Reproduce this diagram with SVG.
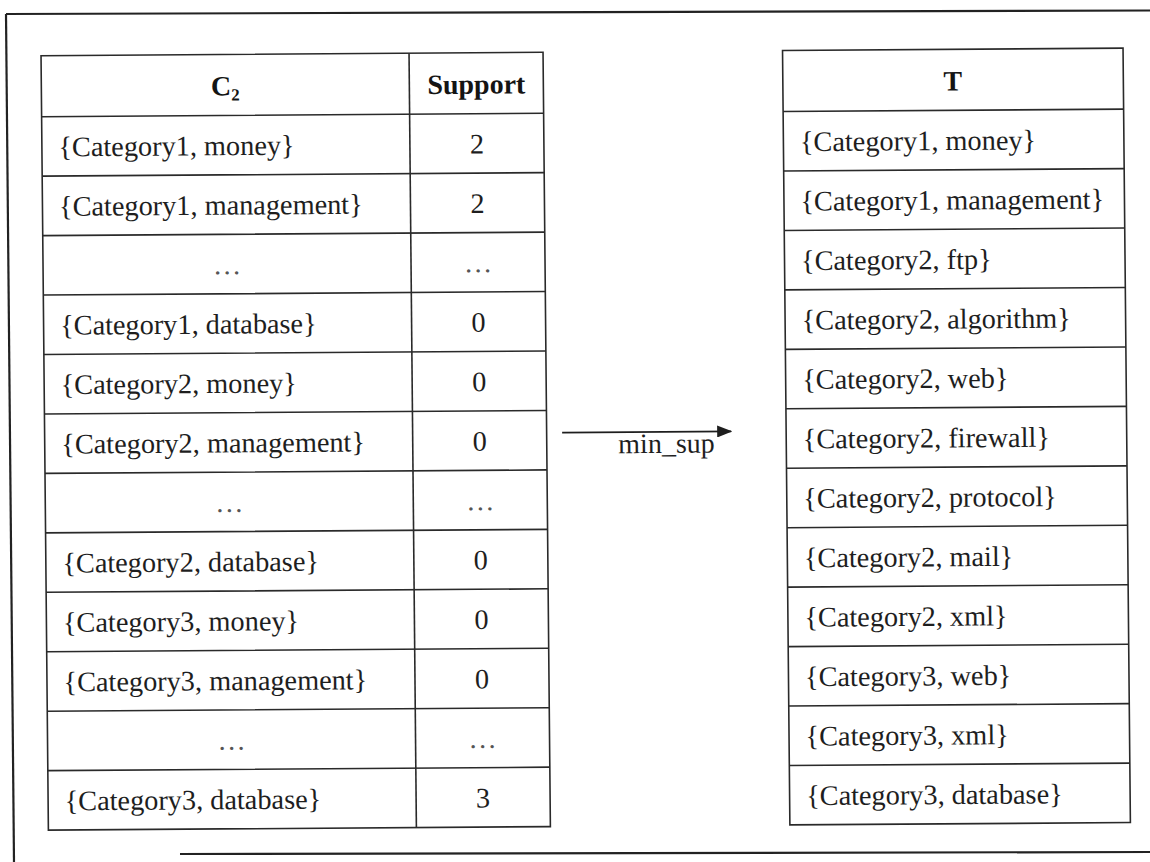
<svg xmlns="http://www.w3.org/2000/svg" width="1150" height="862" viewBox="0 0 1150 862">
  <style>
    .grid { fill: none; stroke: #2a2a2a; stroke-width: 1.6; }
    .frame { fill: none; stroke: #222; stroke-width: 2.2; }
    .cell { font-family: "Liberation Serif", "Times New Roman", serif; font-size: 28.3px; fill: #1e1e1e; }
    .head { font-family: "Liberation Serif", "Times New Roman", serif; font-size: 28px; font-weight: bold; fill: #141414; }
    .mid { text-anchor: middle; }
    .dots { fill: #555; }
    .edge { stroke: #1e1e1e; stroke-width: 1.6; fill: none; }
    .edge-label { font-family: "Liberation Serif", "Times New Roman", serif; font-size: 28px; fill: #1e1e1e; }
  </style>
  <defs>
    <marker id="arrowhead" viewBox="0 0 15 12" refX="14" refY="6" markerWidth="15" markerHeight="12" markerUnits="userSpaceOnUse" orient="auto">
      <path d="M0,0 L15,6 L0,12 Z" fill="#1e1e1e"/>
    </marker>
  </defs>
  <rect width="1150" height="862" fill="#ffffff"/>

  <!-- outer frame: top, left and bottom rules -->
  <g id="frame" class="frame">
    <path d="M6,14 L1150,10.5"/>
    <path d="M6,14 L14,862"/>
    <path d="M180,854 L1150,852"/>
  </g>

  <g transform="matrix(1 -0.007 0.0095 1 0 0)">
    <!-- candidate 2-itemsets with their support -->
    <g id="c2-table">
      <rect class="grid" x="40.5" y="56" width="502" height="774.4"/>
      <path class="grid" d="M408.5,56 V830.4"/>
      <path class="grid" d="M40.5,117 H542.5 M40.5,176.45 H542.5 M40.5,235.9 H542.5 M40.5,295.35 H542.5 M40.5,354.8 H542.5 M40.5,414.25 H542.5 M40.5,473.7 H542.5 M40.5,533.15 H542.5 M40.5,592.6 H542.5 M40.5,652.05 H542.5 M40.5,711.5 H542.5 M40.5,770.95 H542.5"/>
      <text class="head mid" x="224.5" y="97">C<tspan font-size="17" dy="5">2</tspan></text>
      <text class="head mid" x="475.5" y="97">Support</text>

      <text class="cell" x="57" y="156.7">{Category1, money}</text>
      <text class="cell mid" x="475.5" y="156.7">2</text>
      <text class="cell" x="57" y="216.2">{Category1, management}</text>
      <text class="cell mid" x="475.5" y="216.2">2</text>
      <text class="cell mid dots" x="224.5" y="275.6">…</text>
      <text class="cell mid dots" x="475.5" y="275.6">…</text>
      <text class="cell" x="57" y="335.1">{Category1, database}</text>
      <text class="cell mid" x="475.5" y="335.1">0</text>
      <text class="cell" x="57" y="394.5">{Category2, money}</text>
      <text class="cell mid" x="475.5" y="394.5">0</text>
      <text class="cell" x="57" y="454">{Category2, management}</text>
      <text class="cell mid" x="475.5" y="454">0</text>
      <text class="cell mid dots" x="224.5" y="513.4">…</text>
      <text class="cell mid dots" x="475.5" y="513.4">…</text>
      <text class="cell" x="57" y="572.9">{Category2, database}</text>
      <text class="cell mid" x="475.5" y="572.9">0</text>
      <text class="cell" x="57" y="632.3">{Category3, money}</text>
      <text class="cell mid" x="475.5" y="632.3">0</text>
      <text class="cell" x="57" y="691.8">{Category3, management}</text>
      <text class="cell mid" x="475.5" y="691.8">0</text>
      <text class="cell mid dots" x="224.5" y="751.2">…</text>
      <text class="cell mid dots" x="475.5" y="751.2">…</text>
      <text class="cell" x="57" y="810.7">{Category3, database}</text>
      <text class="cell mid" x="475.5" y="810.7">3</text>
    </g>

    <!-- frequent itemsets kept after the support threshold -->
    <g id="t-table">
      <rect class="grid" x="782" y="56" width="340.5" height="774.4"/>
      <path class="grid" d="M782,117 H1122.5 M782,176.45 H1122.5 M782,235.9 H1122.5 M782,295.35 H1122.5 M782,354.8 H1122.5 M782,414.25 H1122.5 M782,473.7 H1122.5 M782,533.15 H1122.5 M782,592.6 H1122.5 M782,652.05 H1122.5 M782,711.5 H1122.5 M782,770.95 H1122.5"/>
      <text class="head mid" x="952" y="97">T</text>
      <text class="cell" x="798.5" y="156.7">{Category1, money}</text>
      <text class="cell" x="798.5" y="216.2">{Category1, management}</text>
      <text class="cell" x="798.5" y="275.6">{Category2, ftp}</text>
      <text class="cell" x="798.5" y="335.1">{Category2, algorithm}</text>
      <text class="cell" x="798.5" y="394.5">{Category2, web}</text>
      <text class="cell" x="798.5" y="454">{Category2, firewall}</text>
      <text class="cell" x="798.5" y="513.4">{Category2, protocol}</text>
      <text class="cell" x="798.5" y="572.9">{Category2, mail}</text>
      <text class="cell" x="798.5" y="632.3">{Category2, xml}</text>
      <text class="cell" x="798.5" y="691.8">{Category3, web}</text>
      <text class="cell" x="798.5" y="751.2">{Category3, xml}</text>
      <text class="cell" x="798.5" y="810.7">{Category3, database}</text>
    </g>

    <!-- connectors -->
    <g id="connectors">
      <path class="edge" d="M558,436.5 H727" marker-end="url(#arrowhead)"/>
      <text class="edge-label" x="614" y="457.5">min_sup</text>
    </g>
  </g>
</svg>
